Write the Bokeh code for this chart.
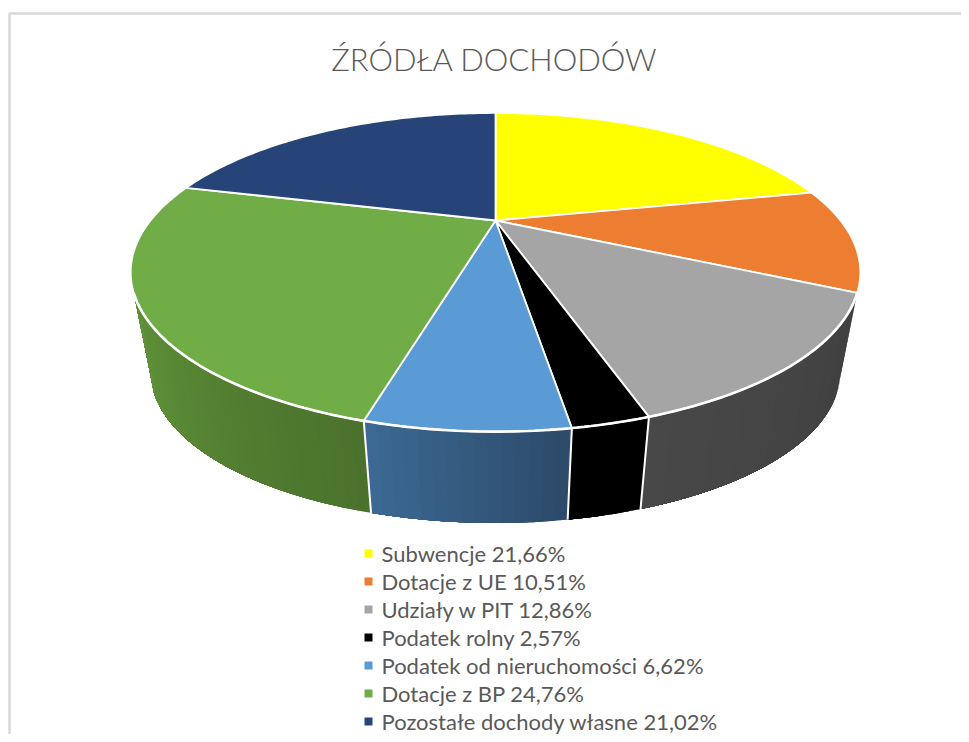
from bokeh.plotting import figure
from bokeh.models import Range1d
from bokeh.core.properties import value
from bokeh.embed import file_html
from bokeh.resources import INLINE
import numpy as np

TITLE = "ŹRÓDŁA DOCHODÓW"
categories = ["Subwencje", "Dotacje z UE", "Udziały w PIT", "Podatek rolny",
              "Podatek od nieruchomości", "Dotacje z BP", "Pozostałe dochody własne"]
shares = [21.66, 10.51, 12.86, 2.57, 6.62, 24.76, 21.02]
top_colors = ["#FFFF00", "#ED7D31", "#A5A5A5", "#000000", "#5B9BD5", "#70AD47", "#264478"]
wall_left = ["#999900", "#8E4B1D", "#484848", "#000000", "#3C6A94", "#609339", "#16294A"]
wall_right = ["#999900", "#8E4B1D", "#404040", "#000000", "#2C4A69", "#4A712C", "#16294A"]

# projection of the pie: a tilted disc seen in perspective
CX, CY = 495.0, 220.0
A, B, K = 345.0, 142.5, 0.325
DROP, SHRINK = 103.0, 0.945
WALL_START = 116.0   # degrees where the side wall emerges from behind the top face
TANGENT = float(np.degrees(np.arccos(-K)))
W, H = 961, 734


def top(deg):
    t = np.radians(np.asarray(deg, float))
    w = 1 + K * np.cos(t)
    return CX + A * np.sin(t) / w, CY - B * np.cos(t) / w


def bottom(deg):
    x, y = top(deg)
    return CX + (x - CX) * SHRINK, CY + DROP + (y - CY) * SHRINK


def mix(c0, c1, f):
    a = [int(c0[i:i + 2], 16) for i in (1, 3, 5)]
    b = [int(c1[i:i + 2], 16) for i in (1, 3, 5)]
    return "#%02x%02x%02x" % tuple(round(p + (q - p) * f) for p, q in zip(a, b))


edges = np.concatenate([[0], np.cumsum(shares)]) * 3.6

p = figure(width=W, height=H, output_backend="svg", toolbar_location=None,
           x_range=Range1d(0, W), y_range=Range1d(H, 0),
           x_axis_type=None, y_axis_type=None, min_border=0, outline_line_color=None)
p.grid.visible = False

# chart frame
p.line([9, 9, W], [H, 13, 13], line_color="#D9D9D9", line_width=2.5)

# side walls (front half only): each band is painted over the previous one, so no seams show
xs, ys, cols = [], [], []
for i in range(len(shares)):
    a0, a1 = max(edges[i], WALL_START), min(edges[i + 1], 360 - WALL_START)
    if a1 <= a0:
        continue
    n = max(2, int((a1 - a0) / 1.5))
    th = np.linspace(a0, a1, n + 1)
    # angle runs right-to-left along the front
    for j in range(n):
        arc = np.linspace(th[j], a1, 40)
        tx, ty = top(arc)
        bx, by = bottom(arc[::-1])
        xs.append(list(tx) + list(bx))
        ys.append(list(ty) + list(by))
        cols.append(mix(wall_right[i], wall_left[i], (j + 0.5) / n))
    # silhouette caps: top point to the tangent of the lower rim
    if edges[i] <= WALL_START <= edges[i + 1]:
        bx, by = bottom(np.linspace(TANGENT, WALL_START, 12))
        tx, ty = top([WALL_START])
        xs.append(list(bx) + [tx[0]])
        ys.append(list(by) + [ty[0]])
        cols.append(wall_right[i])
    if edges[i] <= 360 - WALL_START <= edges[i + 1]:
        bx, by = bottom(np.linspace(360 - WALL_START, 360 - TANGENT, 12))
        tx, ty = top([360 - WALL_START])
        xs.append(list(bx) + [tx[0]])
        ys.append(list(by) + [ty[0]])
        cols.append(wall_left[i])
p.patches(xs, ys, fill_color=cols, line_color=None)

# white edges between walls
ex, ey = [], []
for e in edges[1:]:
    if WALL_START < e < 360 - WALL_START:
        tx, ty = top([e])
        bx, by = bottom([e])
        ex.append([tx[0], bx[0]])
        ey.append([ty[0], by[0]])
p.multi_line(ex, ey, line_color="white", line_width=2)

# top face
fx, fy = [], []
for i in range(len(shares)):
    x, y = top(np.linspace(edges[i], edges[i + 1], 80))
    fx.append([CX] + list(x))
    fy.append([CY] + list(y))
p.patches(fx, fy, fill_color=top_colors, line_color="white", line_width=1.8, line_join="round")

# brighter rim along the front of the top face
rx, ry = top(np.linspace(WALL_START, 360 - WALL_START, 160))
p.line(rx, ry, line_color="white", line_width=2.6)

# title
p.text([494], [58], text=[TITLE], text_font=value("Lato Light"), text_font_size="31px",
       text_color="#595959", text_align="center", text_baseline="middle")

# legend
row_y = [553 + 28.0 * i for i in range(len(categories))]
labels = [f"{c} {s:.2f}%".replace(".", ",") for c, s in zip(categories, shares)]
p.scatter([368] * len(categories), row_y, marker="square", size=8, fill_color=top_colors, line_color=None)
p.text([381] * len(categories), row_y, text=labels, text_font=value("Lato"), text_font_size="22px",
       text_color="#595959", text_align="left", text_baseline="middle")

open("out.html", "w").write(file_html(p, INLINE))
